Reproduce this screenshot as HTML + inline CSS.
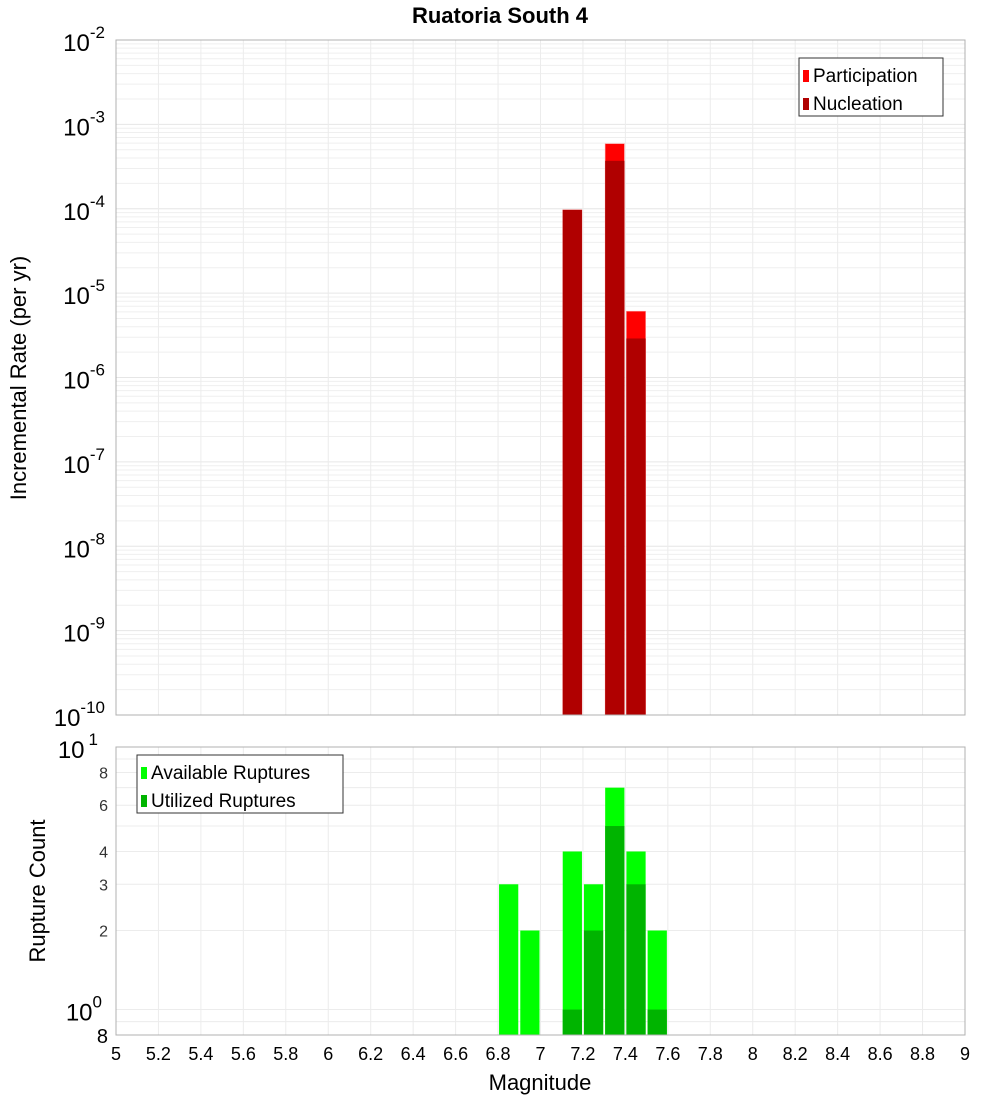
<!DOCTYPE html>
<html><head><meta charset="utf-8"><style>
body{margin:0;background:#fff;width:1000px;height:1100px;overflow:hidden}
svg{font-family:"Liberation Sans","DejaVu Sans",sans-serif}
</style></head><body>
<svg id="c" width="1000" height="1100"></svg>
<script>
const bins=[7.15,7.35,7.45];
const participation=[9.7e-5,5.9e-4,6.1e-6];
const nucleation=[9.7e-5,3.7e-4,2.9e-6];
const cBins=[6.85,6.95,7.15,7.25,7.35,7.45,7.55];
const available=[3,2,4,3,7,4,2];
const uBins=[7.15,7.25,7.35,7.45,7.55];
const utilized=[1,2,5,3,1];
const xTicks=[5,5.2,5.4,5.6,5.8,6,6.2,6.4,6.6,6.8,7,7.2,7.4,7.6,7.8,8,8.2,8.4,8.6,8.8,9];
const topExps=[-2,-3,-4,-5,-6,-7,-8,-9,-10];
const botTicks=[8,6,4,3,2];

const NS="http://www.w3.org/2000/svg";
const svg=document.getElementById('c');
function el(t,a,p){const e=document.createElementNS(NS,t);for(const k in a)e.setAttribute(k,a[k]);(p||svg).appendChild(e);return e;}
const L=116,R=965,T1=40,B1=715,T2=747,B2=1035;
const x=v=>L+(v-5)*(R-L)/4;
const y1=v=>T1+(-2-Math.log10(v))*(B1-T1)/8;
const y2=v=>T2+(1-Math.log10(v))*(B2-T2)/(1-Math.log10(0.8));

// grids
for(let d=-10;d<-2;d++)for(let m=1;m<10;m++){const yy=y1(m*Math.pow(10,d));
 const g=el('line',{x1:L,x2:R,y1:yy,y2:yy,stroke:m==1?'#e6e6e6':'#efefef','stroke-width':1});
 }
for(const m of [0.8,0.9,1,2,3,4,5,6,7,8,9]){const yy=y2(m);
 const g=el('line',{x1:L,x2:R,y1:yy,y2:yy,stroke:'#ececec'});
 }
for(const t of xTicks){for(const [a,b] of [[T1,B1],[T2,B2]]){
 const g=el('line',{x1:x(t),x2:x(t),y1:a,y2:b,stroke:'#ececec'});
 }}

// top bars
bins.forEach((b,i)=>{
 const r=el('rect',{x:x(b-0.05)+1,y:y1(participation[i]),width:(R-L)/40-2,height:B1-y1(participation[i]),fill:'#ff0000',stroke:'#ff9090','stroke-width':0.6});
 
 const n=el('rect',{x:x(b-0.05)+1,y:y1(nucleation[i]),width:(R-L)/40-2,height:B1-y1(nucleation[i]),fill:'#b00000'});
 
});
// bottom bars
cBins.forEach((b,i)=>{
 const r=el('rect',{x:x(b-0.05)+1,y:y2(available[i]),width:(R-L)/40-2,height:B2-y2(available[i]),fill:'#00ff00'});
 });
uBins.forEach((b,i)=>{
 const r=el('rect',{x:x(b-0.05)+1,y:y2(utilized[i]),width:(R-L)/40-2,height:B2-y2(utilized[i]),fill:'#00b400'});
 });

// frames
for(const [a,b] of [[T1,B1],[T2,B2]]){const f=el('rect',{x:L,y:a,width:R-L,height:b-a,fill:'none',stroke:'#b0b0b0'});
 }

// top y labels
topExps.forEach(e=>{const yy=y1(Math.pow(10,e));
 const t=el('text',{x:105,y:yy+11,'text-anchor':'end','font-size':24});
 
 t.textContent='10';
 const s=el('tspan',{dy:-13,'font-size':17},t);s.textContent=String(e);});
// bottom y labels
[[10,'1'],[1,'0']].forEach(([v,e])=>{const yy=y2(v);
 const t=el('text',{x:102,y:yy+11,'text-anchor':'end','font-size':24});
 
 t.textContent='10';const s=el('tspan',{dy:-13,'font-size':17},t);s.textContent=e;
 if(v==10){t.setAttribute('x',98);s.setAttribute('dx',4);}});
botTicks.forEach(v=>{const t=el('text',{x:108,y:y2(v)+6,'text-anchor':'end','font-size':16,fill:'#333'});
 t.textContent=v;});
{const t=el('text',{x:108,y:1043,'text-anchor':'end','font-size':20});
 t.textContent='8';}
// x labels
xTicks.forEach(v=>{const t=el('text',{x:x(v),y:1060,'text-anchor':'middle','font-size':18});
 t.textContent=String(v);});

// titles
let t=el('text',{x:500,y:23,'text-anchor':'middle','font-size':22,'font-weight':'bold'});
t.textContent='Ruatoria South 4';
t=el('text',{x:540,y:1090,'text-anchor':'middle','font-size':22});
t.textContent='Magnitude';
t=el('text',{x:0,y:0,'text-anchor':'middle','font-size':22,transform:'translate(26,378) rotate(-90)'});
t.textContent='Incremental Rate (per yr)';
t=el('text',{x:0,y:0,'text-anchor':'middle','font-size':22,transform:'translate(45,891) rotate(-90)'});
t.textContent='Rupture Count';

// legends
function legend(x0,y0,w,items,name){const g=el('g',{});
 
 el('rect',{x:x0,y:y0,width:w,height:58,fill:'#fff',stroke:'#333'},g);
 items.forEach(([c,l],i)=>{el('rect',{x:x0+4,y:y0+12+i*28,width:6,height:12,fill:c},g);
  const tx=el('text',{x:x0+14,y:y0+24+i*28,'font-size':19},g);tx.textContent=l;});}
legend(799,58,144,[['#ff0000','Participation'],['#b00000','Nucleation']],'legend-rate');
legend(137,755,206,[['#00ff00','Available Ruptures'],['#00b400','Utilized Ruptures']],'legend-count');
</script>
</body></html>
